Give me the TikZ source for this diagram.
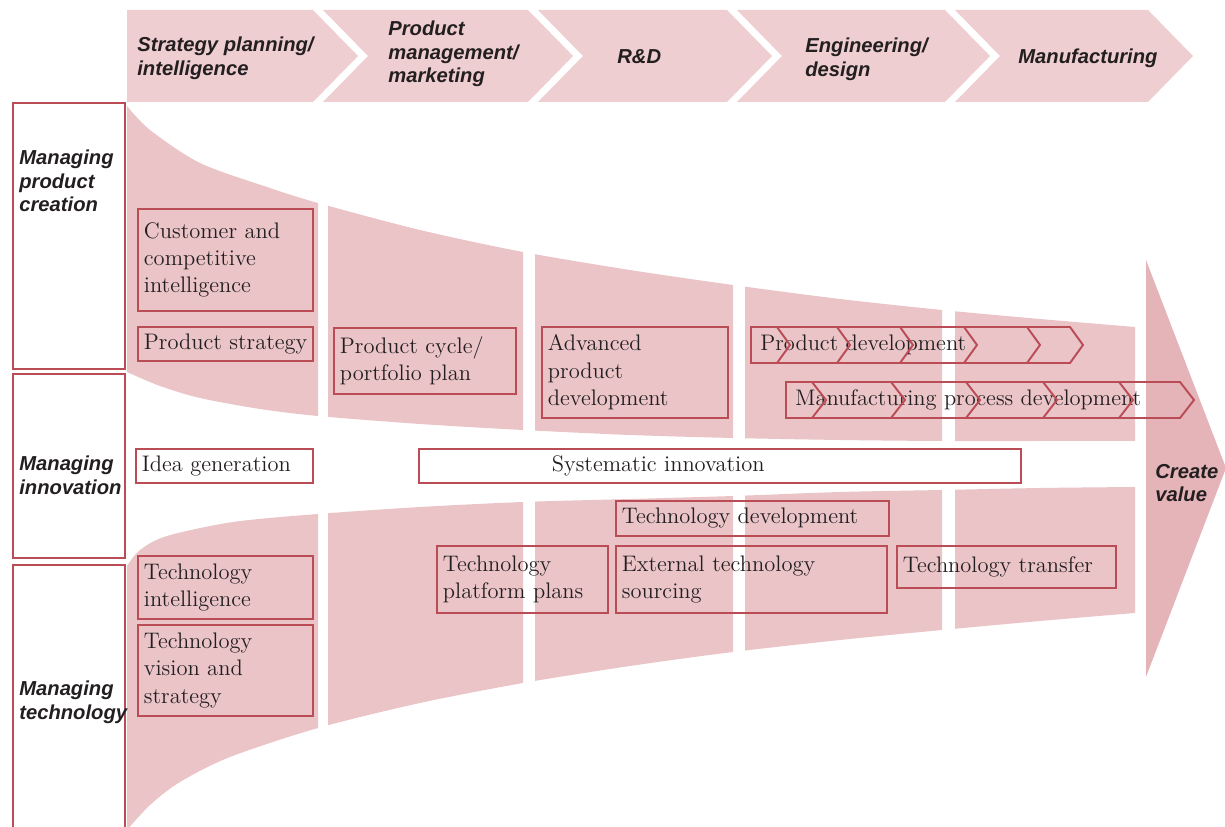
\documentclass[tikz,border=0pt]{standalone}
\usepackage{fontspec}
\newfontfamily\etiq{Liberation Sans}
\definecolor{rose}{RGB}{234,196,199}
\definecolor{roseclair}{RGB}{238,206,208}
\definecolor{rosefonce}{RGB}{228,180,184}
\definecolor{rouge}{RGB}{186,76,86}
\definecolor{encre}{RGB}{35,30,32}
\begin{document}
\begin{tikzpicture}[x=0.02cm,y=-0.02cm]
        \tikzstyle{etape}=[font=\etiq\bfseries\itshape\fontsize{11.5}{13.5}\selectfont,text=encre,align=left,anchor=west,inner sep=0pt]
        \tikzstyle{boite}=[draw=rouge,line width=1.1pt,font=\fontsize{12.8}{15.6}\selectfont,text=encre,align=left,anchor=north west,inner xsep=0.12cm,inner ysep=0pt]
        \tikzstyle{texte}=[font=\fontsize{12.8}{15.6}\selectfont,text=encre,anchor=west,inner sep=0pt]
        \tikzstyle{trait}=[draw=rouge,line width=1.1pt]
        \useasboundingbox (0,0) rectangle (1225,827);
        % les etapes en haut
        \fill[roseclair] (127,10) -- (313,10) -- (358,56) -- (313,102) -- (127,102) -- cycle;
        \foreach \a/\b in {323/528,538/727,737/945,955/1148}
            \fill[roseclair] (\a,10) -- (\b,10) -- (\b+45,56) -- (\b,102) -- (\a,102) -- (\a+45,56) -- cycle;
        % les deux entonnoirs, une colonne par etape
        \foreach \a/\b in {127/318,328/523,535/733,745/942,955/1135} {
            \begin{scope}
                \clip (\a,100) rectangle (\b,830);
                \fill[rose] plot[smooth] coordinates {(127,106) (150,130) (200,163) (267,187) (318,203) (420,230) (523,252) (630,270) (733,285) (840,299) (942,310) (1040,319) (1135,327)}
                    -- plot[smooth] coordinates {(1135,441) (1040,441) (942,441) (840,440) (733,438) (630,435) (523,430) (420,424) (318,416) (260,409) (200,398) (160,386) (127,372)} -- cycle;
                \fill[rose] plot[smooth] coordinates {(127,566) (140,550) (167,536) (233,522) (318,514) (420,507) (523,502) (630,499) (733,496) (840,492) (942,490) (1040,488) (1135,487)}
                    -- plot[smooth] coordinates {(1135,613) (1040,621) (942,630) (840,640) (733,652) (630,666) (523,683) (420,703) (318,728) (230,757) (180,782) (150,805) (127,830)} -- cycle;
            \end{scope}
        }
        \fill[rosefonce] (1146,260) -- (1226,468) -- (1146,677) -- cycle;
        % les rubriques a gauche
        \draw[trait] (13,103) rectangle (125,369);
        \draw[trait] (13,374) rectangle (125,558);
        \draw[trait] (13,565) rectangle (125,845);
        \node[etape] (creation) at (19,181) {Managing\\product\\creation};
        \node[etape] (innovation) at (19,475) {Managing\\innovation};
        \node[etape] (technologie) at (19,702) {Managing\\technology};
        \node[etape] (strategie) at (137,58) {Strategy planning/\\intelligence};
        \node[etape] (marketing) at (388,54) {Product\\management/\\marketing};
        \node[etape] (rd) at (617,57) {R\&D};
        \node[etape] (ingenierie) at (805,59) {Engineering/\\design};
        \node[etape] (fabrication) at (1018,58) {Manufacturing};
        \node[etape] (valeur) at (1155,483) {Create\\value};
        % les boites
        \node[boite,text width=3.26cm,minimum height=2.04cm] (client) at (137,208) {Customer and\\competitive\\intelligence};
        \node[boite,text width=3.26cm,minimum height=0.68cm] (pstrat) at (137,326) {\mbox{Product strategy}};
        \node[boite,text width=3.4cm,minimum height=1.32cm] (cycle) at (333,327) {Product cycle/\\portfolio plan};
        \node[boite,text width=3.48cm,minimum height=1.82cm] (avance) at (541,326) {Advanced\\product\\development};
        \node[boite,fill=white,text width=3.3cm,minimum height=0.68cm] (idee) at (135,448) {Idea generation};
        \node[boite,fill=white,text width=11.8cm,minimum height=0.68cm] (systeme) at (418,448) {\hspace*{2.54cm}Systematic innovation};
        \node[boite,text width=5.22cm,minimum height=0.7cm] (techdev) at (615,500) {Technology development};
        \node[boite,text width=3.18cm,minimum height=1.34cm] (plateforme) at (436,545) {Technology\\platform plans};
        \node[boite,text width=5.18cm,minimum height=1.34cm] (externe) at (615,545) {External technology\\sourcing};
        \node[boite,text width=4.14cm,minimum height=0.84cm] (transfert) at (896,545) {Technology transfer};
        \node[boite,text width=3.26cm,minimum height=1.26cm] (veille) at (137,555) {Technology\\intelligence};
        \node[boite,text width=3.26cm,minimum height=1.82cm] (vision) at (137,624) {Technology\\vision and\\strategy};
        % les fleches de developpement
        \node[texte] (pdev) at (760,345) {Product development};
        \node[texte] (mdev) at (795,400) {Manufacturing process development};
        \draw[trait] (751,327) -- (1070,327) -- (1083,345) -- (1070,363) -- (751,363) -- cycle;
        \foreach \t in {790,850,913,977,1040}
            \draw[trait] (\t-13,327) -- (\t,345) -- (\t-13,363);
        \draw[trait] (786,382) -- (1180,382) -- (1194,400) -- (1180,418) -- (786,418) -- cycle;
        \foreach \t in {826,905,980,1057,1133}
            \draw[trait] (\t-14,382) -- (\t,400) -- (\t-14,418);
    \end{tikzpicture}
\end{document}
